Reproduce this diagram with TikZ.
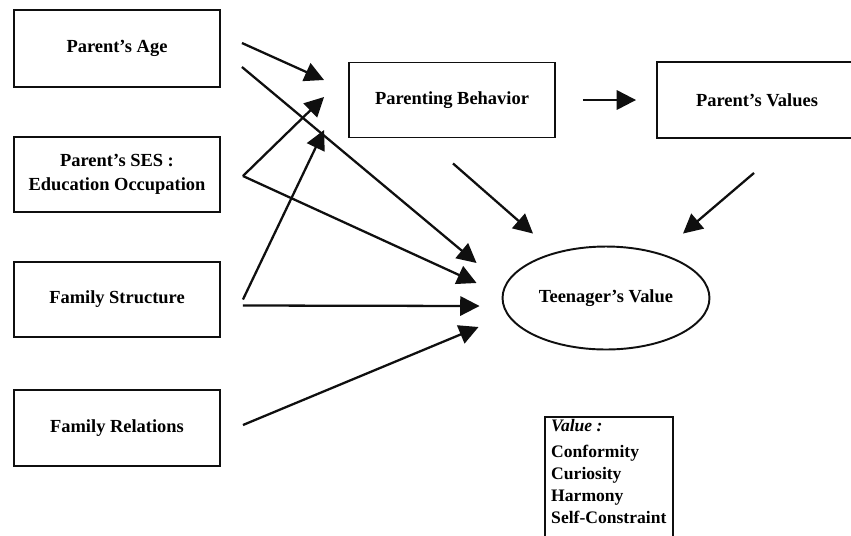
\documentclass[tikz,border=0pt]{standalone}
\usepackage{fontspec}
\setmainfont{Liberation Serif}
\usepackage{tikz}
\usetikzlibrary{shapes.geometric, arrows.meta, positioning, calc}
\definecolor{inkdark}{RGB}{15,15,15}
\tikzset{
  factor/.style={rectangle, draw=inkdark, fill=white, align=center,
    font=\fontsize{10.5}{14}\selectfont\bfseries, line width=1.1pt},
  arrow/.style={-{Triangle[length=11pt, width=11pt]}, line width=1.3pt, color=inkdark},
  line/.style={line width=1.1pt, color=inkdark}
}

\begin{document}
\begin{tikzpicture}[x=0.02cm, y=-0.02cm]
  \useasboundingbox (0,0) rectangle (851,535);

  % left column
  \node[factor, minimum width=4.12cm, minimum height=1.54cm] (age) at (117,48.5) {Parent's Age};
  \node[factor, minimum width=4.12cm, minimum height=1.5cm] (ses) at (117,174.5) {Parent's SES :\\Education Occupation};
  \node[factor, minimum width=4.12cm, minimum height=1.5cm] (struct) at (117,299.5) {Family Structure};
  \node[factor, minimum width=4.12cm, minimum height=1.52cm] (rel) at (117,428) {Family Relations};

  % middle and outcome
  \node[factor, minimum width=4.12cm, minimum height=1.5cm] (behav) at (452,100) {Parenting Behavior};
  \node[factor, minimum width=4cm, minimum height=1.52cm] (values) at (757,100) {Parent's Values};
  \node[factor, ellipse, minimum width=4.14cm, minimum height=2.06cm, inner sep=0pt] (teen) at (606,298) {Teenager's Value};

  % legend, its frame runs off the lower edge
  \node[factor, draw=none, fill=none, align=left, anchor=north west, inner xsep=3pt, inner ysep=1pt,
        font=\fontsize{10}{12.5}\selectfont\bfseries] (legend) at (545,417)
    {\textit{Value :}\\[2pt]Conformity\\Curiosity\\Harmony\\Self-Constraint};
  \draw[line] ([shift={(0,14)}]legend.south west) -- (legend.north west)
    -- (legend.north east) -- ([shift={(0,14)}]legend.south east);

  % paths into parenting behavior
  \draw[arrow] ([shift={(21,-5.5)}]age.east) -- ([shift={(-24,-20)}]behav.west);
  \draw[arrow] ([shift={(22,1.5)}]ses.east) -- ([shift={(-24,-3)}]behav.west);
  \draw[arrow] ([shift={(22,0)}]struct.east) -- ([shift={(-24,30)}]behav.west);

  % paths into teenager's value
  \draw[arrow] ([shift={(21,18.5)}]age.east) -- ([shift={(-25,-35)}]teen.west);
  \draw[arrow] ([shift={(22,1.5)}]ses.east) -- ([shift={(-25,-15)}]teen.west);
  \draw[arrow] ([shift={(22,6)}]struct.east) -- ([shift={(-22,8)}]teen.west);
  \draw[arrow] ([shift={(22,-3)}]rel.east) -- ([shift={(-23,29)}]teen.west);
  \draw[arrow] ([shift={(1,25)}]behav.south) -- ([shift={(-73,-12)}]teen.north);
  \draw[arrow] ([shift={(-3,34)}]values.south) -- ([shift={(77,-12)}]teen.north);

  \draw[arrow] ([shift={(27,0)}]behav.east) -- ([shift={(-20,0)}]values.west);
\end{tikzpicture}
\end{document}
